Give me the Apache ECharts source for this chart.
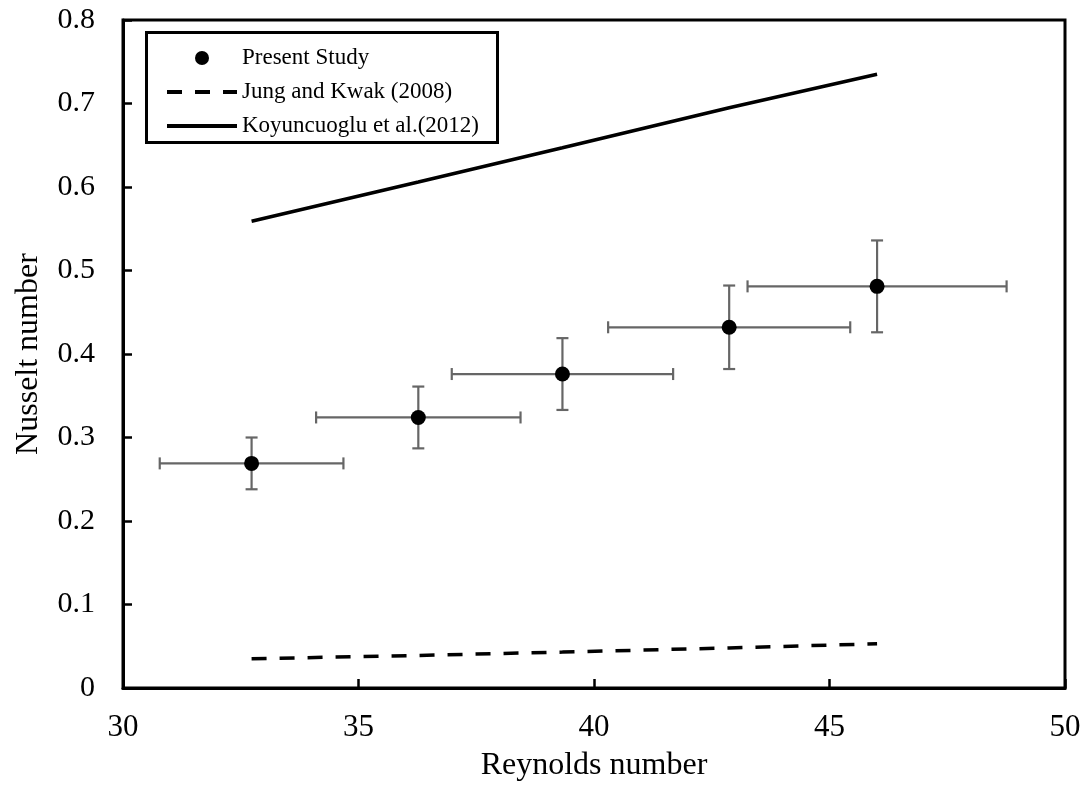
<!DOCTYPE html>
<html>
<head>
<meta charset="utf-8">
<script src="https://cdn.jsdelivr.net/npm/echarts@6/dist/echarts.min.js"></script>
<style>
  html, body { margin: 0; padding: 0; background: #fff; }
  #chart { width: 1088px; height: 791px; }
</style>
</head>
<body>
<div id="chart"></div>
<script>
// values
var reynolds = [32.73, 36.27, 39.33, 42.87, 46.01];
var nusselt = [0.269, 0.324, 0.376, 0.432, 0.481];
var reErr = [1.95, 2.17, 2.35, 2.57, 2.75];
var nuErr = [0.031, 0.037, 0.043, 0.050, 0.055];
var jungKwak = [0.035, 0.039, 0.043, 0.048, 0.053];
var koyuncuoglu = [0.559, 0.606, 0.647, 0.695, 0.735];
var seriesNames = ['Present Study', 'Jung and Kwak (2008)', 'Koyuncuoglu et al.(2012)'];

var FONT = '"Liberation Serif", "Times New Roman", serif';
var DASH = [15, 13];

var errData = [];
var pointData = [];
var jkData = [];
var kyData = [];
for (var i = 0; i < reynolds.length; i++) {
  errData.push([reynolds[i], nusselt[i], reynolds[i] - reErr[i], reynolds[i] + reErr[i],
    nusselt[i] - nuErr[i], nusselt[i] + nuErr[i]]);
  pointData.push([reynolds[i], nusselt[i]]);
  jkData.push([reynolds[i], jungKwak[i]]);
  kyData.push([reynolds[i], koyuncuoglu[i]]);
}

function renderErr(params, api) {
  var x = api.value(0), y = api.value(1);
  var xl = api.coord([api.value(2), y]);
  var xh = api.coord([api.value(3), y]);
  var yl = api.coord([x, api.value(4)]);
  var yh = api.coord([x, api.value(5)]);
  var cap = 6;
  var style = { stroke: '#666', lineWidth: 2.2, fill: null };
  var seg = function (x1, y1, x2, y2) {
    return { type: 'line', shape: { x1: x1, y1: y1, x2: x2, y2: y2 }, style: style };
  };
  return {
    type: 'group',
    children: [
      seg(xl[0], xl[1], xh[0], xh[1]),
      seg(xl[0], xl[1] - cap, xl[0], xl[1] + cap),
      seg(xh[0], xh[1] - cap, xh[0], xh[1] + cap),
      seg(yl[0], yl[1], yh[0], yh[1]),
      seg(yl[0] - cap, yl[1], yl[0] + cap, yl[1]),
      seg(yh[0] - cap, yh[1], yh[0] + cap, yh[1])
    ]
  };
}

var chart = echarts.init(document.getElementById('chart'), null, { renderer: 'canvas' });

var option = {
  backgroundColor: '#fff',
  animation: false,
  textStyle: { fontFamily: FONT, color: '#000' },
  grid: {
    left: 123, right: 23, top: 20, bottom: 103,
    show: true, borderColor: '#000', borderWidth: 3, backgroundColor: 'transparent'
  },
  xAxis: {
    type: 'value', min: 30, max: 50, interval: 5,
    name: 'Reynolds number', nameLocation: 'middle', nameGap: 62,
    nameTextStyle: { fontFamily: FONT, fontSize: 32, color: '#000' },
    axisLine: { show: true, lineStyle: { color: '#000', width: 3 } },
    axisTick: { show: true, inside: true, length: 9, lineStyle: { color: '#000', width: 2.5 } },
    axisLabel: { fontFamily: FONT, fontSize: 31, color: '#000', margin: 24 },
    splitLine: { show: false }
  },
  yAxis: {
    type: 'value', min: 0, max: 0.8, interval: 0.1,
    name: 'Nusselt number', nameLocation: 'middle', nameGap: 78, nameRotate: 90,
    nameTextStyle: { fontFamily: FONT, fontSize: 32, color: '#000' },
    axisLine: { show: true, lineStyle: { color: '#000', width: 3 } },
    axisTick: { show: true, inside: true, length: 9, lineStyle: { color: '#000', width: 2.5 } },
    axisLabel: { fontFamily: FONT, fontSize: 30, color: '#000', margin: 28 },
    splitLine: { show: false }
  },
  legend: {
    data: [
      { name: seriesNames[0] },
      { name: seriesNames[1], itemStyle: { opacity: 0 }, lineStyle: { width: 4, type: DASH } },
      { name: seriesNames[2], itemStyle: { opacity: 0 }, lineStyle: { width: 4 } }
    ],
    orient: 'vertical',
    left: 160, top: 41,
    itemWidth: 70, itemHeight: 14, itemGap: 10,
    textStyle: { fontFamily: FONT, fontSize: 23, lineHeight: 24, color: '#000' }
  },
  graphic: [{
    type: 'rect',
    left: 144, top: 30,
    shape: { width: 351, height: 110 },
    style: { fill: null, stroke: '#000', lineWidth: 3 },
    z: 100
  }],
  series: [
    {
      type: 'custom',
      renderItem: renderErr,
      data: errData,
      encode: { x: [0, 2, 3], y: [1, 4, 5] },
      z: 2,
      silent: true
    },
    {
      name: seriesNames[0],
      type: 'scatter',
      data: pointData,
      symbol: 'circle',
      symbolSize: 15,
      itemStyle: { color: '#000', opacity: 1 },
      z: 5
    },
    {
      name: seriesNames[1],
      type: 'line',
      data: jkData,
      showSymbol: false,
      symbol: 'none',
      lineStyle: { color: '#000', width: 3.5, type: DASH },
      itemStyle: { color: '#000' },
      z: 3
    },
    {
      name: seriesNames[2],
      type: 'line',
      data: kyData,
      showSymbol: false,
      symbol: 'none',
      lineStyle: { color: '#000', width: 3.5 },
      itemStyle: { color: '#000' },
      z: 3
    }
  ]
};

chart.setOption(option);
</script>
</body>
</html>
